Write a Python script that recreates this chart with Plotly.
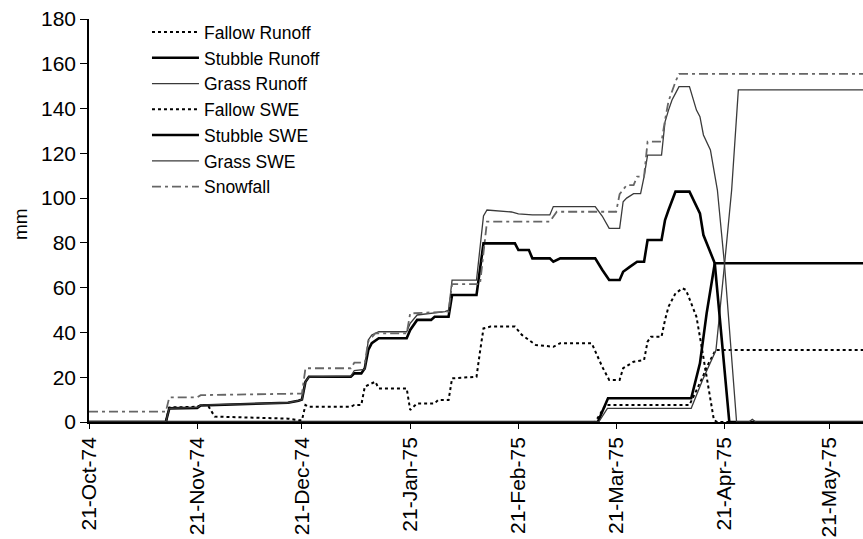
import plotly.graph_objects as go

# ---- Runoff (mm) ----
fallow_runoff_dates = ["1974-10-21", "1975-03-15", "1975-03-18", "1975-04-11", "1975-04-14 20:00",
                       "1975-04-16", "1975-04-18 12:00", "1975-05-31"]
fallow_runoff_mm = [0, 0, 7.6, 7.6, 20.2, 24.7, 32.2, 32.2]

stubble_runoff_dates = ["1974-10-21", "1975-03-15 18:00", "1975-03-18 16:00", "1975-04-11 12:00", "1975-04-14",
                        "1975-04-15 22:00", "1975-04-18 06:00", "1975-05-31"]
stubble_runoff_mm = [0, 0, 10.6, 10.6, 26.2, 48.5, 70.9, 70.9]

grass_runoff_dates = ["1974-10-21", "1975-03-16", "1975-03-18 12:00", "1975-04-11 12:00", "1975-04-14 18:00",
                      "1975-04-16 12:00", "1975-04-18 14:00", "1975-04-21 02:00", "1975-04-23 02:00",
                      "1975-04-25", "1975-05-31"]
grass_runoff_mm = [0, 0, 6.1, 6.1, 18.8, 25.0, 32.0, 71.0, 103.6, 148.3, 148.3]

# ---- Snow water equivalent (mm) ----
fallow_swe_dates = ["1974-10-21", "1974-11-12", "1974-11-13", "1974-11-21", "1974-11-22", "1974-11-24",
                    "1974-11-26", "1974-12-17", "1974-12-20", "1974-12-21", "1974-12-22", "1974-12-23",
                    "1975-01-04", "1975-01-05", "1975-01-07", "1975-01-08", "1975-01-11", "1975-01-12",
                    "1975-01-20", "1975-01-21", "1975-01-23", "1975-01-28", "1975-01-29", "1975-02-01",
                    "1975-02-02", "1975-02-09", "1975-02-10", "1975-02-11", "1975-02-13", "1975-02-20",
                    "1975-02-22", "1975-02-26", "1975-03-03", "1975-03-05", "1975-03-14", "1975-03-17",
                    "1975-03-19", "1975-03-22", "1975-03-23", "1975-03-26", "1975-03-29", "1975-03-30",
                    "1975-03-31", "1975-04-03", "1975-04-04", "1975-04-05", "1975-04-07", "1975-04-09",
                    "1975-04-10", "1975-04-13", "1975-04-14", "1975-04-16", "1975-04-18", "1975-04-19",
                    "1975-05-31"]
fallow_swe_mm = [0, 0, 6.5, 6.8, 7.6, 7.6,
                 2.4, 1.5, 0.8, 0.8, 7.6, 6.8,
                 6.8, 7.6, 7.6, 15.8, 18.0, 15.0,
                 15.0, 5.4, 8.3, 8.3, 9.8, 9.8,
                 19.5, 20.2, 31.4, 41.8, 42.6, 42.6,
                 38.9, 34.4, 33.6, 35.2, 35.2, 24.7,
                 18.8, 18.8, 24.0, 26.9, 27.7, 35.9,
                 38.1, 38.1, 45.6, 51.5, 57.5, 59.7,
                 59.0, 47.0, 38.0, 18.8, 0.9, 0,
                 0]

stubble_swe_dates = ["1974-10-21", "1974-11-12", "1974-11-13", "1974-11-21", "1974-11-22", "1974-12-17",
                     "1974-12-20", "1974-12-21", "1974-12-22", "1974-12-23", "1975-01-04", "1975-01-05",
                     "1975-01-07", "1975-01-08", "1975-01-09", "1975-01-10", "1975-01-12", "1975-01-20",
                     "1975-01-21", "1975-01-23", "1975-01-27", "1975-01-28", "1975-02-01", "1975-02-02",
                     "1975-02-09", "1975-02-10", "1975-02-11", "1975-02-20", "1975-02-21", "1975-02-24",
                     "1975-02-25", "1975-03-02", "1975-03-03", "1975-03-05", "1975-03-15", "1975-03-17",
                     "1975-03-19", "1975-03-22", "1975-03-23", "1975-03-25", "1975-03-27", "1975-03-29",
                     "1975-03-30", "1975-04-03", "1975-04-04", "1975-04-05", "1975-04-06", "1975-04-07",
                     "1975-04-11", "1975-04-14", "1975-04-15", "1975-04-17", "1975-04-18 06:00",
                     "1975-04-22 10:00", "1975-05-31"]
stubble_swe_mm = [0, 0, 6.1, 6.3, 7.4, 8.6,
                  9.5, 10.0, 18.0, 20.2, 20.2, 21.7,
                  21.7, 24.0, 32.2, 35.2, 37.4, 37.4,
                  41.1, 45.6, 45.6, 47.0, 47.0, 56.7,
                  56.7, 69.4, 79.8, 79.8, 76.8, 76.8,
                  73.1, 73.1, 71.6, 73.1, 73.1, 68.0,
                  63.4, 63.4, 67.1, 69.4, 71.6, 71.6,
                  81.3, 81.3, 90.2, 94.7, 98.4, 102.9,
                  102.9, 93.2, 83.5, 76.1, 70.9,
                  0, 0]

grass_swe_dates = ["1974-10-21", "1974-11-12", "1974-11-13", "1974-11-21", "1974-11-22", "1974-12-17",
                   "1974-12-20", "1974-12-21", "1974-12-22", "1974-12-23", "1975-01-04", "1975-01-05",
                   "1975-01-08", "1975-01-09", "1975-01-10", "1975-01-12", "1975-01-20", "1975-01-21",
                   "1975-01-23", "1975-01-31", "1975-02-01", "1975-02-02", "1975-02-09", "1975-02-10",
                   "1975-02-11", "1975-02-12", "1975-02-19", "1975-02-21", "1975-02-25", "1975-03-02",
                   "1975-03-03", "1975-03-15", "1975-03-17", "1975-03-19", "1975-03-22", "1975-03-23",
                   "1975-03-24", "1975-03-26", "1975-03-28", "1975-03-29", "1975-03-30", "1975-04-03",
                   "1975-04-04", "1975-04-05", "1975-04-06", "1975-04-07", "1975-04-08", "1975-04-11",
                   "1975-04-13", "1975-04-14", "1975-04-15", "1975-04-17", "1975-04-18", "1975-04-19",
                   "1975-04-21", "1975-04-24 12:00", "1975-04-28", "1975-04-29", "1975-04-30", "1975-05-31"]
grass_swe_mm = [0, 0, 6.1, 6.5, 7.5, 8.6,
                9.5, 10.0, 18.0, 20.2, 20.5, 23.0,
                23.5, 36.6, 38.9, 40.3, 40.3, 44.1,
                47.8, 49.3, 50.0, 63.4, 63.4, 78.3,
                92.0, 94.7, 93.8, 93.0, 92.5, 92.5,
                96.2, 96.2, 92.0, 86.5, 86.5, 98.4,
                100.0, 102.0, 102.0, 109.6, 119.2, 119.2,
                134.1, 139.3, 143.8, 146.8, 149.8, 149.8,
                139.3, 136.4, 128.2, 121.5, 112.5, 103.6,
                71.0, 0, 0, 1.2, 0, 0]

# ---- Cumulative snowfall (mm) ----
snowfall_dates = ["1974-10-21", "1974-11-12", "1974-11-13", "1974-11-21", "1974-11-22", "1974-12-20",
                  "1974-12-21", "1974-12-22", "1975-01-04", "1975-01-05", "1975-01-08", "1975-01-09",
                  "1975-01-11", "1975-01-20", "1975-01-21", "1975-02-01", "1975-02-02", "1975-02-10",
                  "1975-02-11", "1975-02-12", "1975-03-02", "1975-03-04", "1975-03-21", "1975-03-22",
                  "1975-03-24", "1975-03-26", "1975-03-27", "1975-03-29", "1975-03-30", "1975-04-03",
                  "1975-04-04", "1975-04-05", "1975-04-07", "1975-04-08", "1975-05-31"]
snowfall_mm = [4.6, 4.6, 11.0, 11.0, 12.0, 12.5,
               12.7, 24.0, 24.0, 26.5, 26.5, 36.0,
               39.6, 39.6, 48.5, 49.3, 61.6, 61.6,
               75.0, 89.5, 89.5, 93.9, 93.9, 101.8,
               105.8, 105.8, 109.6, 109.6, 125.2, 125.2,
               134.9, 143.3, 152.0, 155.5, 155.5]

# ---- Axis ticks ----
tick_dates = ["1974-10-21", "1974-11-21", "1974-12-21", "1975-01-21", "1975-02-21",
              "1975-03-21", "1975-04-21", "1975-05-21"]
tick_labels = ["21-Oct-74", "21-Nov-74", "21-Dec-74", "21-Jan-75", "21-Feb-75",
               "21-Mar-75", "21-Apr-75", "21-May-75"]

FONT = "Liberation Sans, Arial, Helvetica, sans-serif"

series = [
    ("Fallow Runoff", fallow_runoff_dates, fallow_runoff_mm, "#000000", 2.0, "dot"),
    ("Stubble Runoff", stubble_runoff_dates, stubble_runoff_mm, "#000000", 2.6, "solid"),
    ("Grass Runoff", grass_runoff_dates, grass_runoff_mm, "#3a3a3a", 1.3, "solid"),
    ("Fallow SWE", fallow_swe_dates, fallow_swe_mm, "#000000", 2.0, "dot"),
    ("Stubble SWE", stubble_swe_dates, stubble_swe_mm, "#000000", 2.6, "solid"),
    ("Grass SWE", grass_swe_dates, grass_swe_mm, "#3a3a3a", 1.3, "solid"),
    ("Snowfall", snowfall_dates, snowfall_mm, "#666666", 1.8, "9px,4px,3px,4px"),
]

fig = go.Figure()
for name, xs, ys, color, width, dash in series:
    fig.add_trace(go.Scatter(
        x=xs, y=ys, mode="lines", name=name,
        line=dict(color=color, width=width, dash=dash),
    ))

fig.update_layout(
    width=863, height=539,
    margin=dict(l=89, r=0, t=19, b=117),
    paper_bgcolor="white", plot_bgcolor="white",
    font=dict(family=FONT, color="black"),
    showlegend=True,
    legend=dict(
        x=0.0749, y=1.012, xanchor="left", yanchor="top",
        bgcolor="rgba(0,0,0,0)", borderwidth=0,
        font=dict(size=17.5, family=FONT, color="black"),
        itemwidth=47, tracegroupgap=0,
    ),
    xaxis=dict(
        type="date",
        range=["1974-10-21", "1975-05-30 17:00"],
        tickmode="array", tickvals=tick_dates, ticktext=tick_labels,
        tickangle=-90, ticks="outside", ticklen=5, tickwidth=1.3, tickcolor="black",
        showline=True, linecolor="black", linewidth=1.5,
        showgrid=False, zeroline=False,
        tickfont=dict(size=21, family=FONT, color="black"),
    ),
    yaxis=dict(
        range=[0, 180], tickmode="linear", tick0=0, dtick=20,
        ticks="outside", ticklen=7, tickwidth=1.3, tickcolor="black",
        showline=True, linecolor="black", linewidth=1.5,
        showgrid=False, zeroline=False,
        tickfont=dict(size=21, family=FONT, color="black"),
    ),
    annotations=[dict(
        text="mm", xref="paper", yref="paper", x=-0.0885, y=0.49,
        xanchor="center", yanchor="middle", textangle=-90, showarrow=False,
        font=dict(size=19, family=FONT, color="black"),
    )],
)

fig.write_html("out.html")
